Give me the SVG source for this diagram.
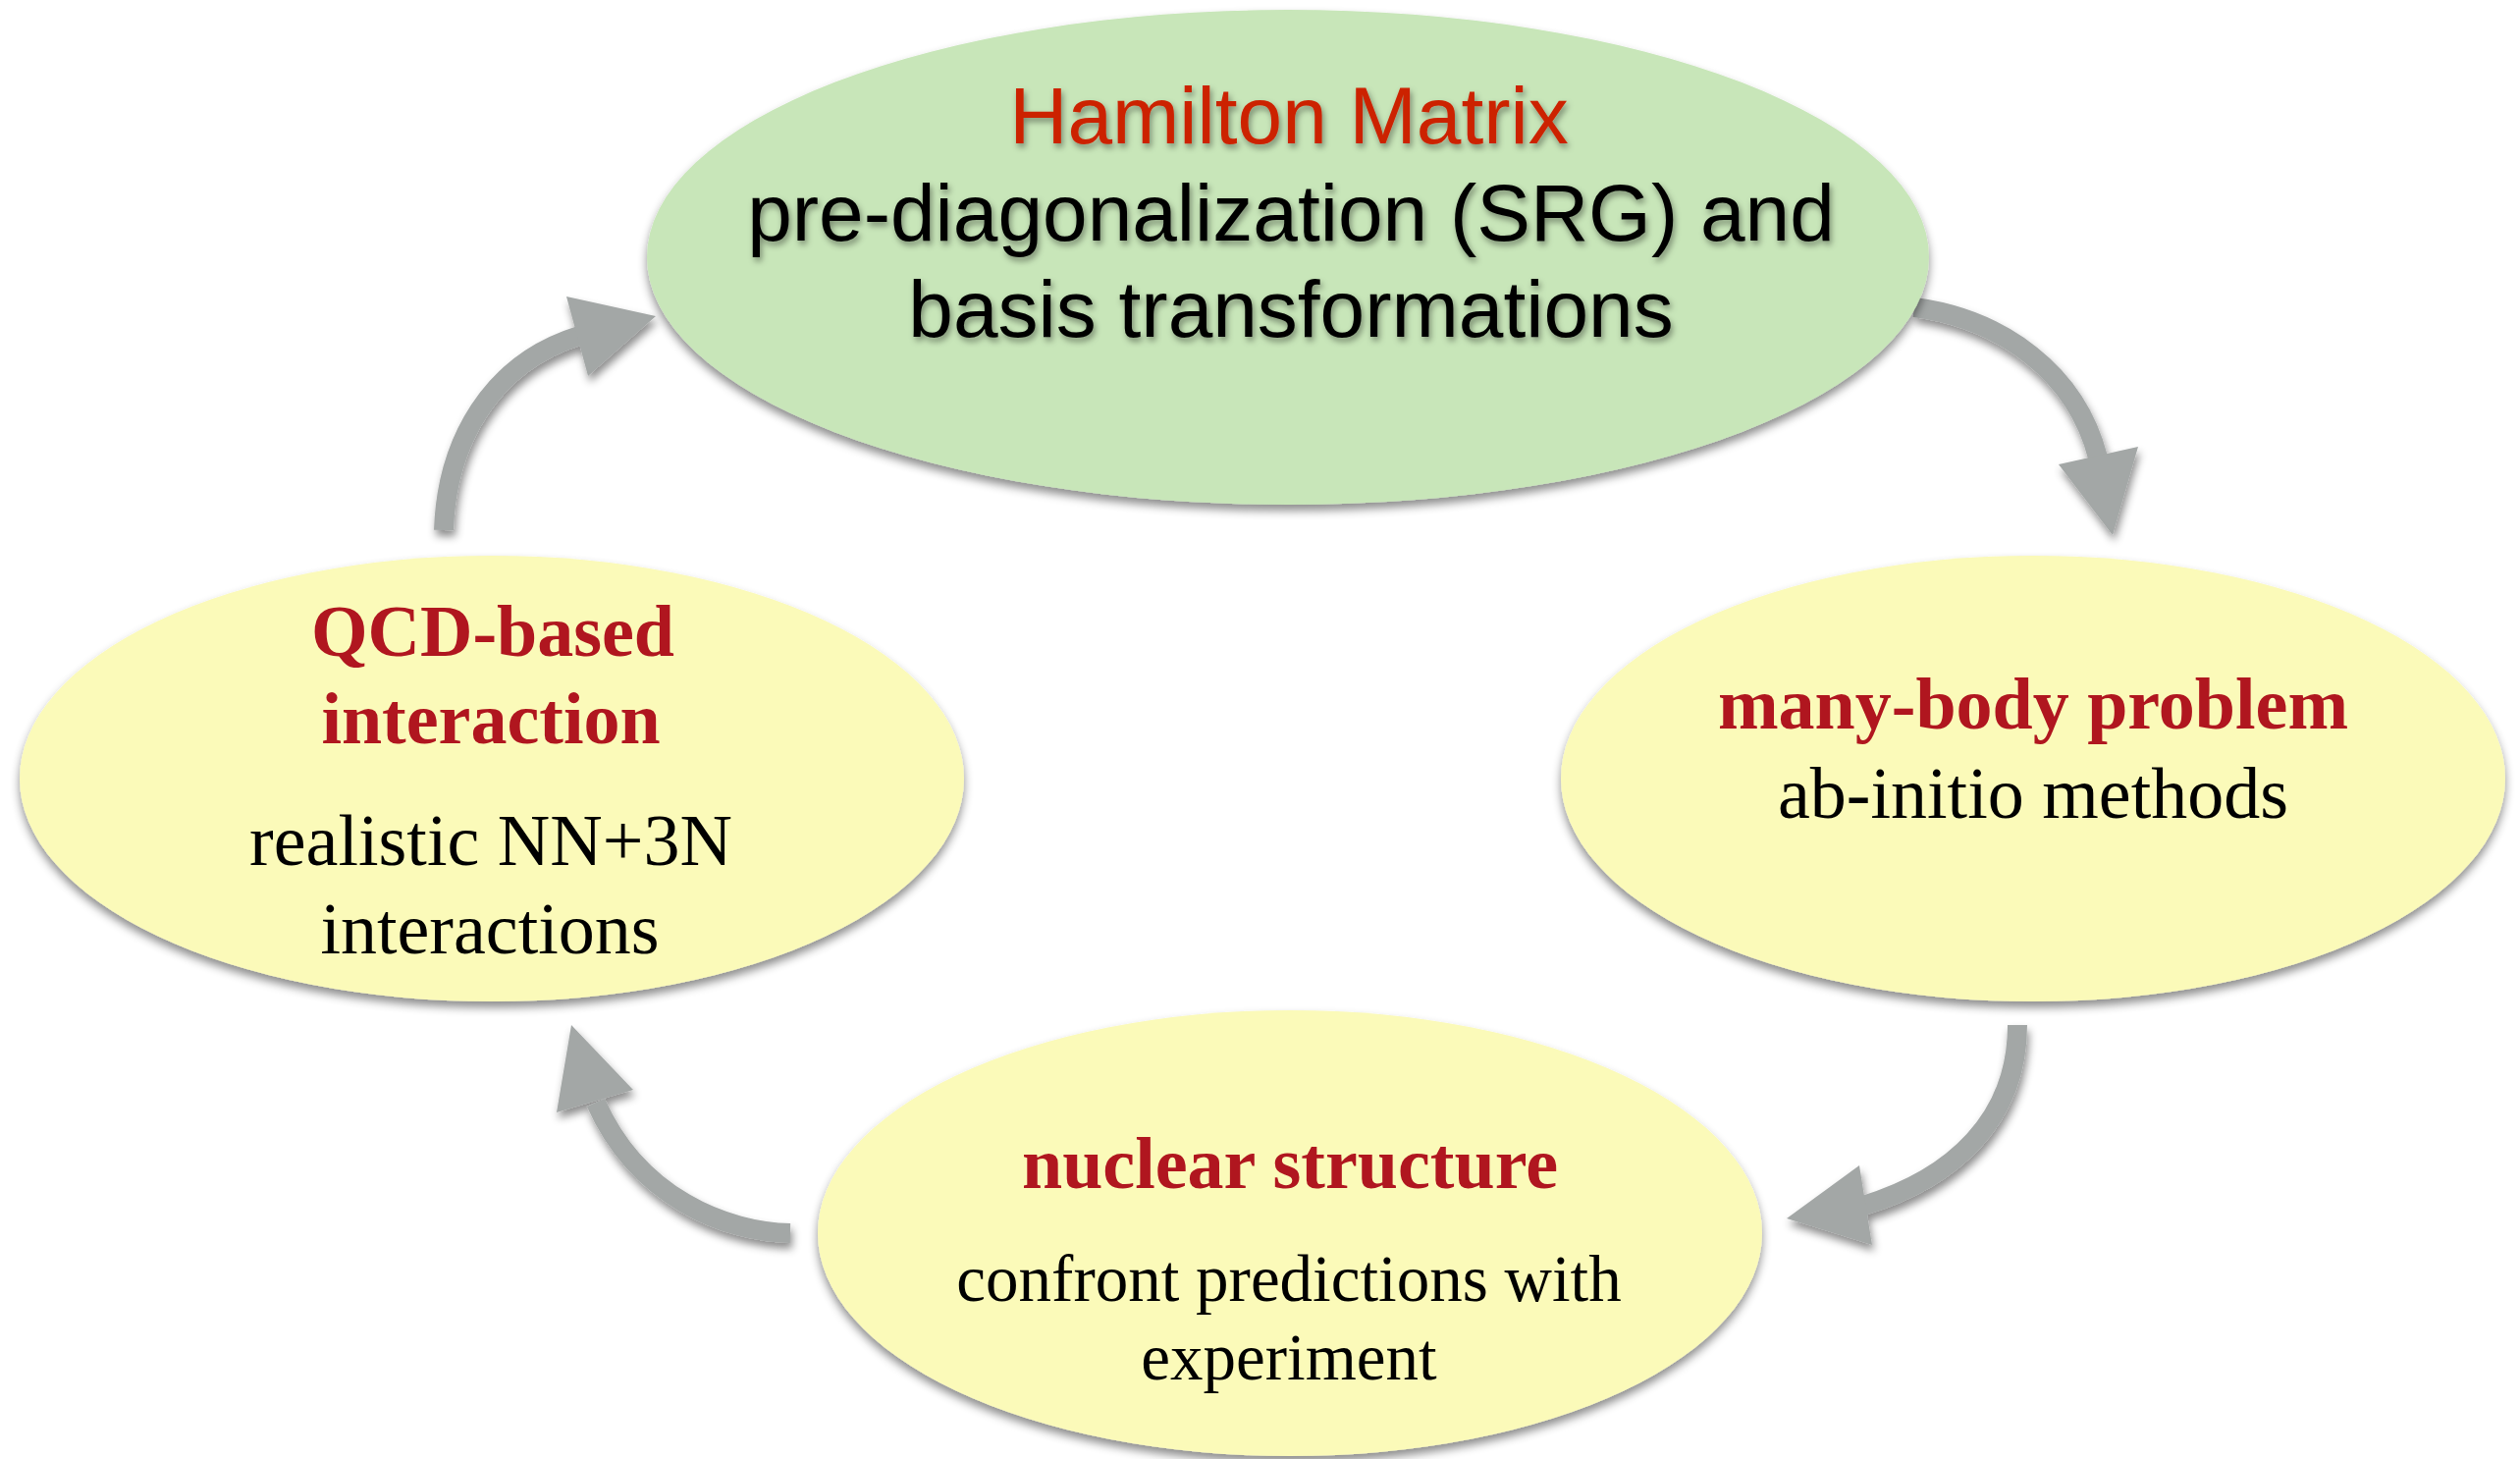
<svg xmlns="http://www.w3.org/2000/svg" width="2567" height="1486" viewBox="0 0 2567 1486">
<style>
.sans{font-family:"Liberation Sans",Arial,sans-serif;text-anchor:middle}
.serif{font-family:"Liberation Serif","Times New Roman",serif;text-anchor:middle}
.hred{fill:#cc2200}
.sred{fill:#b0161f;font-weight:bold}
.blk{fill:#000}
.shaft{fill:none;stroke:#a3a7a6;stroke-width:20;stroke-linecap:butt}
.head{fill:#a3a7a6}
.green{fill:#c8e6b9}
.yellow{fill:#fbfab9}
</style>
<defs>
<filter id="nshadow" x="-10%" y="-10%" width="120%" height="130%">
<feDropShadow dx="0" dy="6" stdDeviation="5" flood-color="#000" flood-opacity="0.45"/>
</filter>
<filter id="ashadow" x="-30%" y="-30%" width="160%" height="160%">
<feDropShadow dx="2" dy="6" stdDeviation="4" flood-color="#000" flood-opacity="0.45"/>
</filter>
<filter id="tshadow" x="-5%" y="-20%" width="110%" height="150%">
<feDropShadow dx="2" dy="4" stdDeviation="3" flood-color="#000" flood-opacity="0.4"/>
</filter>
</defs>
<rect width="2567" height="1486" fill="#fff"/>
<g id="connectors">
<g filter="url(#ashadow)">
<path class="shaft" d="M452 540 C455 450 500 370 590 342"/>
<polygon class="head" points="577,302 668,322 599,383"/>
</g>
<g filter="url(#ashadow)">
<path class="shaft" d="M1950 313 C2040 325 2115 380 2137 466"/>
<polygon class="head" points="2097,473 2178,455 2152,545"/>
</g>
<g filter="url(#ashadow)">
<path class="shaft" d="M2055 1044 C2055 1140 1990 1200 1898 1228"/>
<polygon class="head" points="1894,1187 1820,1241 1907,1268"/>
</g>
<g filter="url(#ashadow)">
<path class="shaft" d="M805 1256 C740 1255 650 1220 607 1123"/>
<polygon class="head" points="567,1133 582,1044 645,1110"/>
</g>
</g>
<g id="hamilton">
<ellipse class="green" cx="1312" cy="262" rx="653" ry="252" filter="url(#nshadow)"/>
<g filter="url(#tshadow)" font-size="82">
<text class="sans hred" x="1313" y="146">Hamilton Matrix</text>
<text class="sans blk" x="1315" y="245">pre-diagonalization (SRG) and</text>
<text class="sans blk" x="1315" y="343">basis transformations</text>
</g>
</g>
<g id="qcd">
<ellipse class="yellow" cx="501" cy="793" rx="481" ry="227" filter="url(#nshadow)"/>
<text class="serif sred" x="502" y="668" font-size="74">QCD-based</text>
<text class="serif sred" x="500" y="757" font-size="74">interaction</text>
<text class="serif blk" x="500" y="881" font-size="74">realistic NN+3N</text>
<text class="serif blk" x="499" y="971" font-size="74">interactions</text>
</g>
<g id="manybody">
<ellipse class="yellow" cx="2071" cy="793" rx="481" ry="227" filter="url(#nshadow)"/>
<text class="serif sred" x="2071" y="742" font-size="74">many-body problem</text>
<text class="serif blk" x="2071" y="833" font-size="74">ab-initio methods</text>
</g>
<g id="nuclear">
<ellipse class="yellow" cx="1314" cy="1256" rx="481" ry="227" filter="url(#nshadow)"/>
<text class="serif sred" x="1314" y="1210" font-size="74">nuclear structure</text>
<text class="serif blk" x="1313" y="1325" font-size="67">confront predictions with</text>
<text class="serif blk" x="1313" y="1405" font-size="67">experiment</text>
</g>
</svg>
